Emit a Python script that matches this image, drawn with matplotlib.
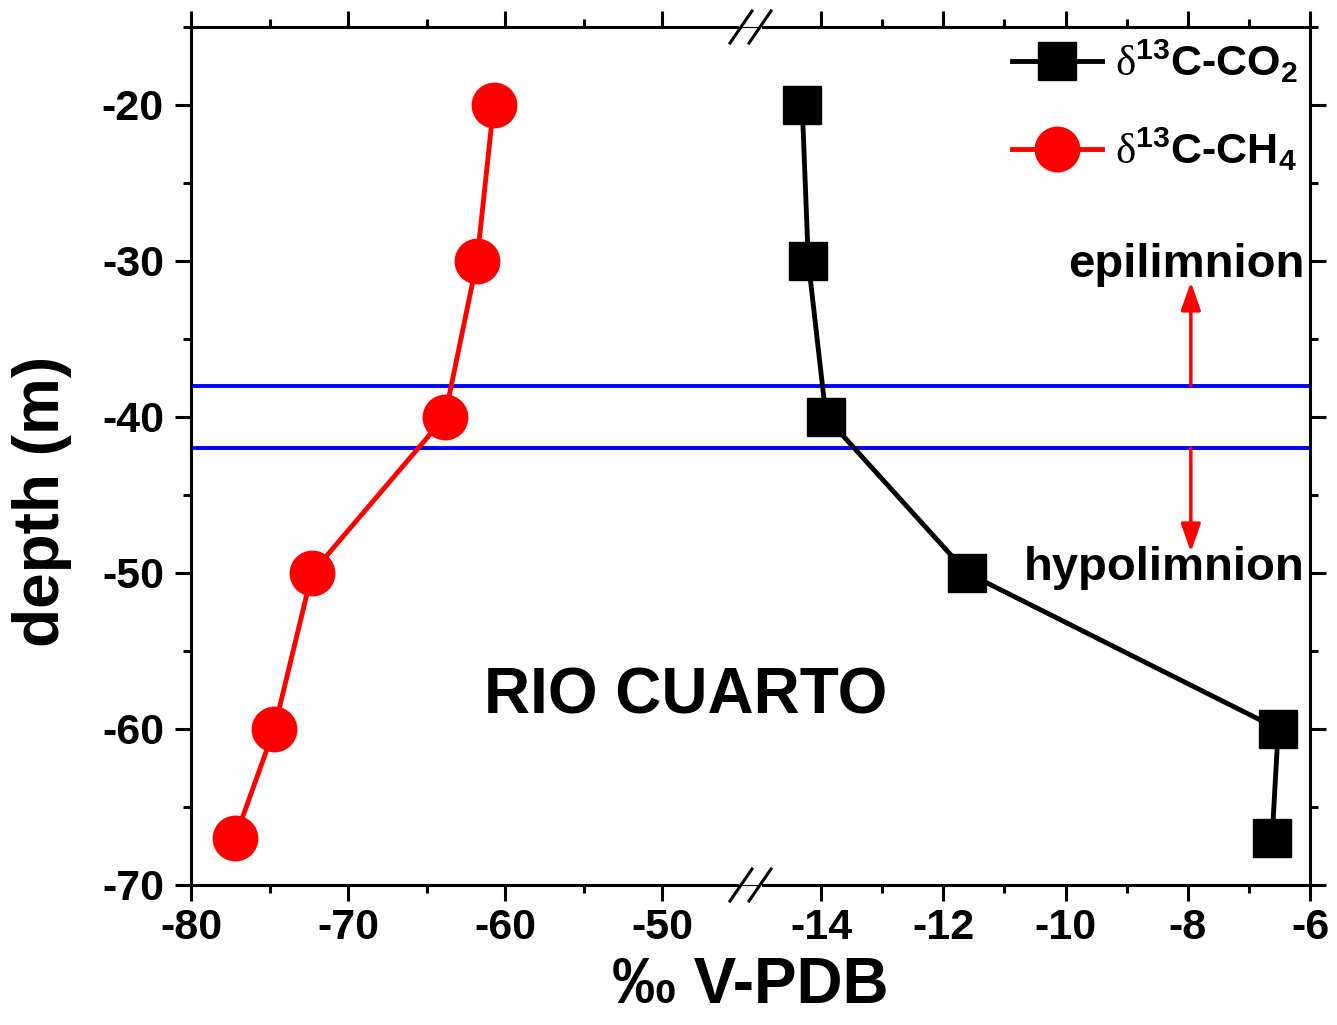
import numpy as np
import matplotlib
matplotlib.use('Agg')
import matplotlib.pyplot as plt
from matplotlib.ticker import FixedLocator, MultipleLocator

plt.rcParams['font.family'] = ['Liberation Sans', 'DejaVu Sans']
plt.rcParams['font.weight'] = 'bold'
plt.rcParams['axes.unicode_minus'] = False
plt.rcParams['mathtext.fontset'] = 'custom'
plt.rcParams['mathtext.rm'] = 'Liberation Serif:normal'
plt.rcParams['mathtext.bf'] = 'Liberation Sans:bold'

# データ
depth = [-20, -30, -40, -50, -60, -67]
d13c_co2 = [-14.31, -14.21, -13.92, -11.61, -6.52, -6.62]
d13c_ch4 = [-60.74, -61.8, -63.85, -72.3, -74.7, -77.2]
thermocline = [-38, -42]
x_major = [-80, -70, -60, -50, -14, -12, -10, -8, -6]
x_minor = [-75, -65, -55, -13, -11, -9, -7]

# 折れ軸 (-80..-45 | -15..-6)
brk_l, brk_r = 0.4915, 0.5085
xp = np.array([-200.0, -80, -45, -15, -6, 100])
fp = np.array([-120 * brk_l / 35, 0, brk_l, brk_r, 1, 1 + 106 * (1 - brk_r) / 9])

def fwd(x):
    return np.interp(x, xp, fp)

def inv(y):
    return np.interp(y, fp, xp)

fig = plt.figure(figsize=(13.37, 10.25), dpi=100)
ax = fig.add_axes([0.14286, 0.13659, 0.83695, 0.83707])
ax.set_xscale('function', functions=(fwd, inv))
ax.set_xlim(-80, -6)
ax.set_ylim(-70, -15)

for y in thermocline:
    ax.axhline(y, color='#0000ff', lw=2.8, zorder=1)

ax.plot(d13c_co2, depth, color='black', lw=3.5, marker='s', ms=28,
        label=r'$\mathrm{δ}^{\mathbf{13}}$C-CO$_{\mathbf{2}}$', zorder=3)
ax.plot(d13c_ch4, depth, color='#ff0000', lw=3.5, marker='o', ms=32,
        label=r'$\mathrm{δ}^{\mathbf{13}}$C-CH$_{\mathbf{4}}$', zorder=3)

ax.xaxis.set_major_locator(FixedLocator(x_major))
ax.xaxis.set_minor_locator(FixedLocator(x_minor))
ax.set_xticklabels([str(v) for v in x_major])
ax.yaxis.set_major_locator(MultipleLocator(10))
ax.yaxis.set_minor_locator(MultipleLocator(5))

ax.tick_params(which='both', direction='out', top=True, right=True, width=2.2)
ax.tick_params(which='major', length=11.5, labelsize=31)
ax.tick_params(which='minor', length=6)
ax.tick_params(axis='y', pad=8)
ax.tick_params(axis='x', pad=5)
for s in ax.spines.values():
    s.set_linewidth(2.2)

ax.set_xlabel('‰ V-PDB', fontsize=46, fontweight='bold', labelpad=6)
ax.set_ylabel('depth (m)', fontsize=46, fontweight='bold')
ax.yaxis.set_label_coords(-0.106, 0.447)

# 折れ目マーク
dx, dy = 11 / 1119, 16 / 858
for yy in (0, 1):
    ax.plot([brk_l, brk_r], [yy, yy], transform=ax.transAxes, color='white',
            lw=3, clip_on=False, zorder=5)
    ax.plot([brk_l, brk_r], [yy, yy], transform=ax.transAxes, color='black',
            lw=0.8, clip_on=False, zorder=6)
    for xx in (brk_l, brk_r):
        ax.plot([xx - dx, xx + dx], [yy - dy, yy + dy], transform=ax.transAxes,
                color='black', lw=2.2, clip_on=False, zorder=6)

# 注記
ax.annotate('', xy=(-7.95, -31.35), xytext=(-7.95, -38),
            arrowprops=dict(arrowstyle='-|>,head_length=0.85,head_width=0.3',
                            color='#ff0000', lw=2.5, mutation_scale=20,
                            shrinkA=0, shrinkB=0))
ax.annotate('', xy=(-7.95, -48.65), xytext=(-7.95, -42),
            arrowprops=dict(arrowstyle='-|>,head_length=0.85,head_width=0.3',
                            color='#ff0000', lw=2.5, mutation_scale=20,
                            shrinkA=0, shrinkB=0))
ax.text(0.9955, 0.7086, 'epilimnion', transform=ax.transAxes, ha='right',
        va='baseline', fontsize=34, fontweight='bold')
ax.text(0.9955, 0.3555, 'hypolimnion', transform=ax.transAxes, ha='right',
        va='baseline', fontsize=34, fontweight='bold')
ax.text(0.442, 0.22, 'RIO CUARTO', transform=ax.transAxes, ha='center',
        va='center', fontsize=46, fontweight='bold')

ax.legend(loc='upper right', bbox_to_anchor=(1.005, 1.008), frameon=False,
          fontsize=31, handlelength=2.1, handletextpad=0.3, labelspacing=0.95,
          borderaxespad=0.2, borderpad=0.2, markerscale=1.0)

fig.savefig('out.png', dpi=100)
